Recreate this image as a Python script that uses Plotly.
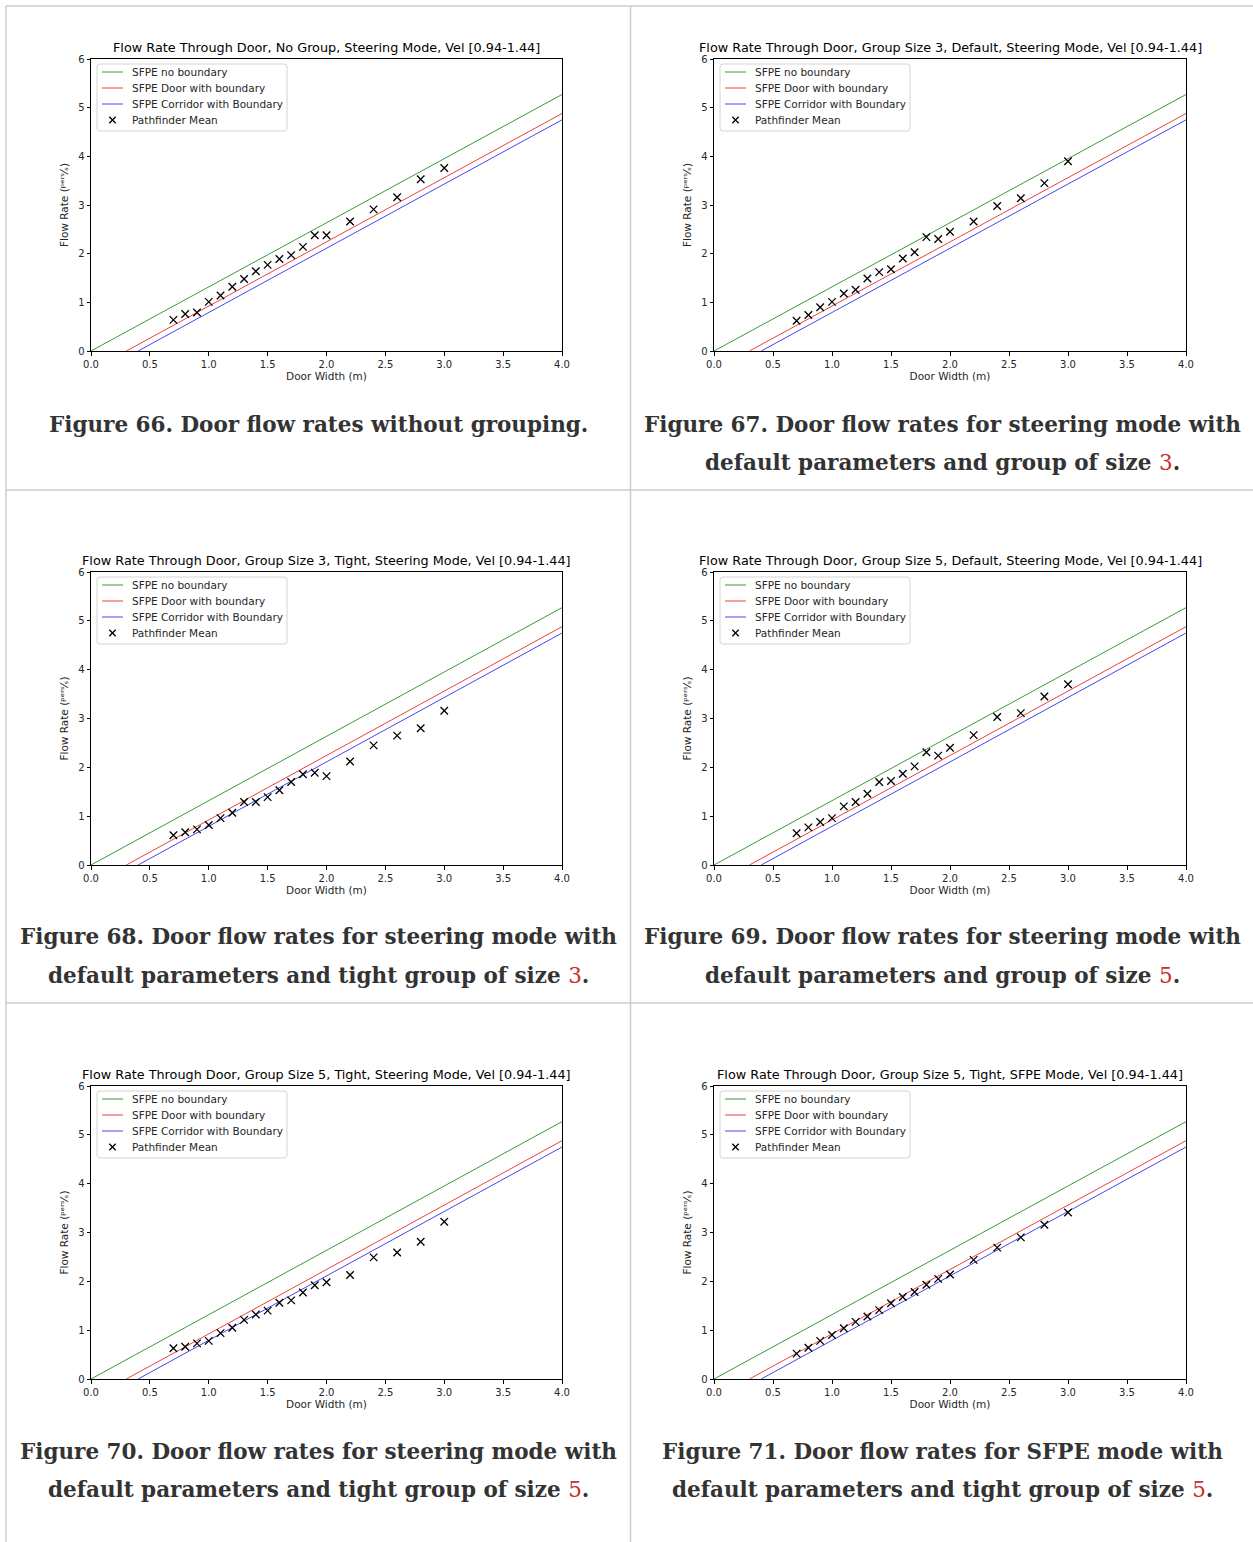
import plotly.graph_objects as go

W, H = 1253, 1542

# ---------------- data ----------------
door_width = [0.7, 0.8, 0.9, 1.0, 1.1, 1.2, 1.3, 1.4, 1.5, 1.6, 1.7, 1.8, 1.9, 2.0,
              2.2, 2.4, 2.6, 2.8, 3.0]

fig66_mean = [0.64, 0.76, 0.79, 1.01, 1.14, 1.32, 1.48, 1.64, 1.77, 1.89, 1.97, 2.14,
              2.38, 2.38, 2.66, 2.91, 3.16, 3.53, 3.76]
fig67_mean = [0.62, 0.74, 0.90, 1.01, 1.18, 1.26, 1.49, 1.62, 1.68, 1.90, 2.03, 2.34,
              2.30, 2.45, 2.66, 2.98, 3.14, 3.45, 3.90]
fig68_mean = [0.61, 0.67, 0.73, 0.82, 0.96, 1.07, 1.29, 1.29, 1.39, 1.53, 1.70, 1.86,
              1.89, 1.82, 2.12, 2.45, 2.65, 2.80, 3.16]
fig69_mean = [0.65, 0.77, 0.88, 0.96, 1.20, 1.29, 1.46, 1.70, 1.72, 1.87, 2.02, 2.31,
              2.24, 2.40, 2.66, 3.03, 3.11, 3.45, 3.70]
fig70_mean = [0.63, 0.66, 0.73, 0.78, 0.94, 1.05, 1.21, 1.32, 1.40, 1.56, 1.61, 1.77,
              1.92, 1.98, 2.13, 2.49, 2.59, 2.81, 3.22]
fig71_mean = [0.52, 0.64, 0.78, 0.90, 1.04, 1.17, 1.28, 1.41, 1.55, 1.68, 1.78, 1.93,
              2.05, 2.14, 2.44, 2.69, 2.90, 3.16, 3.41]

# SFPE reference lines (end points)
sfpe_no_boundary_x = [0.0, 4.0]
sfpe_no_boundary_y = [0.0, 5.27]
sfpe_door_x = [0.3, 4.0]
sfpe_door_y = [0.0, 4.88]
sfpe_corridor_x = [0.4, 4.0]
sfpe_corridor_y = [0.0, 4.75]

x_ticks = [0.0, 0.5, 1.0, 1.5, 2.0, 2.5, 3.0, 3.5, 4.0]
y_ticks = [0, 1, 2, 3, 4, 5, 6]

legend_names = ["SFPE no boundary", "SFPE Door with boundary",
                "SFPE Corridor with Boundary", "Pathfinder Mean"]

x_title = "Door Width (m)"
y_title = "Flow Rate (\u1d56\u1d49\u02b3\u02e2\u2044\u209b)"

titles = [
    "Flow Rate Through Door, No Group, Steering Mode, Vel [0.94-1.44]",
    "Flow Rate Through Door, Group Size 3, Default, Steering Mode, Vel [0.94-1.44]",
    "Flow Rate Through Door, Group Size 3, Tight, Steering Mode, Vel [0.94-1.44]",
    "Flow Rate Through Door, Group Size 5, Default, Steering Mode, Vel [0.94-1.44]",
    "Flow Rate Through Door, Group Size 5, Tight, Steering Mode, Vel [0.94-1.44]",
    "Flow Rate Through Door, Group Size 5, Tight, SFPE Mode, Vel [0.94-1.44]",
]

RED = '<span style="color:#c8302c;font-weight:normal">{}</span>'
captions = [
    ["Figure 66. Door flow rates without grouping."],
    ["Figure 67. Door flow rates for steering mode with",
     "default parameters and group of size " + RED.format("3") + "."],
    ["Figure 68. Door flow rates for steering mode with",
     "default parameters and tight group of size " + RED.format("3") + "."],
    ["Figure 69. Door flow rates for steering mode with",
     "default parameters and group of size " + RED.format("5") + "."],
    ["Figure 70. Door flow rates for steering mode with",
     "default parameters and tight group of size " + RED.format("5") + "."],
    ["Figure 71. Door flow rates for SFPE mode with",
     "default parameters and tight group of size " + RED.format("5") + "."],
]

means = [fig66_mean, fig67_mean, fig68_mean, fig69_mean, fig70_mean, fig71_mean]

# ---------------- layout geometry (pixels) ----------------
col_left = [91, 714]
col_right = [562, 1186]
row_top = [59, 572, 1086]
row_bottom = [351, 865, 1379]
cell_center = [318, 942]
caption_y = [[424, 462], [937, 975], [1451, 1489]]


def px(x):
    return x / W


def py(y):
    return 1 - y / H


TXT = "#262626"
FONT = "DejaVu Sans"
colors = ["#3a9a3a", "#ee4040", "#4646ee"]

fig = go.Figure()
layout = dict(
    width=W, height=H,
    margin=dict(l=0, r=0, t=0, b=0, autoexpand=False),
    paper_bgcolor="white", plot_bgcolor="white",
    font=dict(family=FONT, size=10, color=TXT),
    showlegend=False,
)
annotations = []
shapes = []

for i in range(6):
    r, c = divmod(i, 2)
    n = i + 1
    xa = "x" if n == 1 else f"x{n}"
    ya = "y" if n == 1 else f"y{n}"
    xkey = "xaxis" if n == 1 else f"xaxis{n}"
    ykey = "yaxis" if n == 1 else f"yaxis{n}"
    L, T = col_left[c], row_top[r]

    line_sets = [(sfpe_no_boundary_x, sfpe_no_boundary_y),
                 (sfpe_door_x, sfpe_door_y),
                 (sfpe_corridor_x, sfpe_corridor_y)]
    for k, (lx, ly) in enumerate(line_sets):
        fig.add_trace(go.Scatter(
            x=lx, y=ly, mode="lines", name=legend_names[k],
            line=dict(color=colors[k], width=1),
            xaxis=xa, yaxis=ya))
    fig.add_trace(go.Scatter(
        x=door_width, y=means[i], mode="markers", name=legend_names[3],
        marker=dict(symbol="x-thin", size=7.5, color="black",
                    line=dict(color="black", width=1.3)),
        xaxis=xa, yaxis=ya))

    axis_common = dict(
        showgrid=False, zeroline=False, showline=True, mirror=True,
        linecolor="black", linewidth=1, ticks="outside", ticklen=3.5,
        tickwidth=0.8, tickcolor="black",
        tickfont=dict(family=FONT, size=10, color=TXT),
    )
    layout[xkey] = dict(
        axis_common,
        domain=[px(col_left[c]), px(col_right[c])],
        range=[0, 4], tickvals=x_ticks,
        ticktext=[f"{v:.1f}" for v in x_ticks],
        anchor=ya,
        title=dict(text=x_title, standoff=4,
                   font=dict(family=FONT, size=10.5, color=TXT)),
    )
    layout[ykey] = dict(
        axis_common,
        domain=[py(row_bottom[r]), py(row_top[r])],
        range=[0, 6], tickvals=y_ticks,
        ticktext=[str(v) for v in y_ticks],
        anchor=xa,
        title=dict(text=y_title, standoff=7,
                   font=dict(family=FONT, size=10.5, color=TXT)),
    )

    # ----- legend (drawn in paper pixels, matplotlib style) -----
    bx0, by0, bx1, by1 = L + 6, T + 5, L + 196, T + 72
    rr = 3
    path = (f"M {px(bx0 + rr)},{py(by0)} L {px(bx1 - rr)},{py(by0)} "
            f"Q {px(bx1)},{py(by0)} {px(bx1)},{py(by0 + rr)} "
            f"L {px(bx1)},{py(by1 - rr)} Q {px(bx1)},{py(by1)} {px(bx1 - rr)},{py(by1)} "
            f"L {px(bx0 + rr)},{py(by1)} Q {px(bx0)},{py(by1)} {px(bx0)},{py(by1 - rr)} "
            f"L {px(bx0)},{py(by0 + rr)} Q {px(bx0)},{py(by0)} {px(bx0 + rr)},{py(by0)} Z")
    shapes.append(dict(type="path", xref="paper", yref="paper", path=path,
                       fillcolor="rgba(255,255,255,0.85)",
                       line=dict(color="#d4d4d4", width=1), layer="above"))
    for k in range(4):
        yy = T + 13 + 16 * k
        if k < 3:
            shapes.append(dict(type="line", xref="paper", yref="paper",
                               x0=px(L + 11), x1=px(L + 32), y0=py(yy), y1=py(yy),
                               line=dict(color=colors[k], width=1), layer="above"))
        else:
            cx, s = L + 21.5, 3.2
            shapes.append(dict(
                type="path", xref="paper", yref="paper", layer="above",
                path=(f"M {px(cx - s)},{py(yy - s)} L {px(cx + s)},{py(yy + s)} "
                      f"M {px(cx - s)},{py(yy + s)} L {px(cx + s)},{py(yy - s)}"),
                line=dict(color="black", width=1.3)))
        annotations.append(dict(
            text=legend_names[k], xref="paper", yref="paper",
            x=px(L + 39), y=py(yy), xanchor="left", yanchor="middle",
            showarrow=False, font=dict(family=FONT, size=10.5, color=TXT)))

    # subplot title
    annotations.append(dict(
        text=titles[i], xref="paper", yref="paper",
        x=px((col_left[c] + col_right[c]) / 2), y=py(row_top[r]),
        xanchor="center", yanchor="bottom", yshift=2, showarrow=False,
        font=dict(family=FONT, size=12.8, color="black")))

    # captions
    for j, t in enumerate(captions[i]):
        annotations.append(dict(
            text=t, xref="paper", yref="paper",
            x=px(cell_center[c]), y=py(caption_y[r][j]),
            xanchor="center", yanchor="middle", showarrow=False,
            font=dict(family="DejaVu Serif", size=21.5, color="#333333",
                      weight="bold")))

# table borders
GRID = "#cccccc"
for (x0, y0, x1, y1) in [(6, 6, W, 6), (6, 6, 6, H), (630.5, 6, 630.5, H),
                         (6, 490, W, 490), (6, 1003, W, 1003)]:
    shapes.append(dict(type="line", xref="paper", yref="paper",
                       x0=px(x0), y0=py(y0), x1=px(x1), y1=py(y1),
                       line=dict(color=GRID, width=1.5)))

layout["annotations"] = annotations
layout["shapes"] = shapes
fig.update_layout(**layout)

fig.write_html("out.html", config={"displayModeBar": False},
               post_script="document.body.style.margin='0';document.body.style.overflow='hidden';")
